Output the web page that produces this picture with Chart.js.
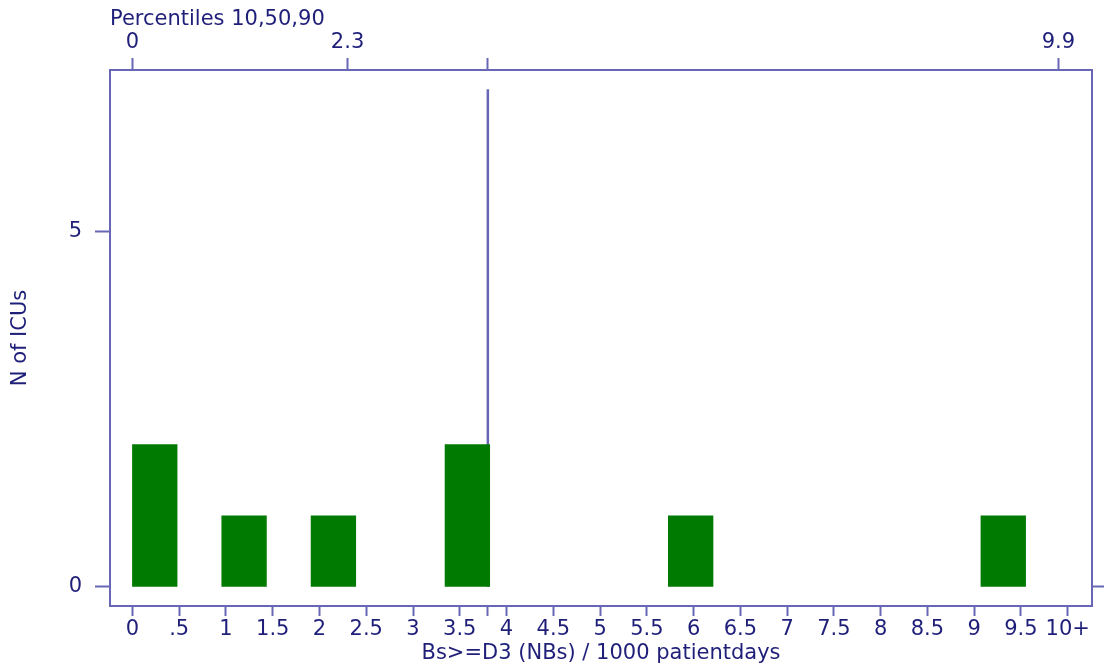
<!DOCTYPE html>
<html>
<head>
<meta charset="utf-8">
<script src="https://cdn.jsdelivr.net/npm/chart.js@4.4.0/dist/chart.umd.min.js"></script>
<style>
html, body { margin: 0; padding: 0; background: #fff; }
</style>
</head>
<body>
<canvas id="chart" width="1104" height="671"></canvas>
<script>
// histogram data (bin i covers i*binWidth .. (i+1)*binWidth)
var binWidth = 0.4775;
var binCounts = [2, 0, 1, 0, 1, 0, 0, 2, 0, 0, 0, 0, 1, 0, 0, 0, 0, 0, 0, 1];

// bottom axis
var xTickValues = [0, 0.5, 1, 1.5, 2, 2.5, 3, 3.5, 4, 4.5, 5, 5.5, 6, 6.5, 7, 7.5, 8, 8.5, 9, 9.5, 10];
var xTickLabels = ['0', '.5', '1', '1.5', '2', '2.5', '3', '3.5', '4', '4.5', '5', '5.5', '6', '6.5', '7', '7.5', '8', '8.5', '9', '9.5', '10+'];

// reference line
var refValue = 3.8;
var refTop = 7;

// top axis (percentiles)
var pctValues = [0, 2.3, 3.8, 9.9];
var pctLabels = ['0', '2.3', '', '9.9'];

// left axis
var yTickValues = [0, 5];
var yTickLabels = ['0', '5'];

var axisColor = '#6767b6';
var textColor = '#1f1f7a';
var fnt = { family: "'DejaVu Sans', Arial, sans-serif", size: 21 };

// empty bins -> null so no hairline is drawn
var barData = binCounts.map(function (c, i) {
    return { x: (i + 0.5) * binWidth, y: c === 0 ? null : c };
});

new Chart(document.getElementById('chart'), {
    type: 'bar',
    data: {
        datasets: [{
            type: 'bar',
            data: barData,
            backgroundColor: '#007a00',
            borderWidth: 0,
            barPercentage: 1,
            categoryPercentage: 1,
            order: 0
        }, {
            type: 'line',
            data: [{ x: refValue, y: 0 }, { x: refValue, y: refTop }],
            borderColor: axisColor,
            borderWidth: 2.5,
            pointRadius: 0,
            order: 1
        }]
    },
    options: {
        responsive: false,
        animation: false,
        layout: { padding: 0 },
        plugins: { legend: { display: false }, tooltip: { enabled: false } },
        scales: {
            x: {
                type: 'linear', position: 'bottom', min: -0.24, max: 10.26, offset: false,
                grid: { drawOnChartArea: false, drawTicks: true, tickLength: 10, tickWidth: 2, color: axisColor, offset: false },
                border: { display: true, color: axisColor, width: 2 },
                afterBuildTicks: function (s) {
                    s.ticks = xTickValues.concat([refValue]).map(function (v) { return { value: v }; });
                },
                ticks: {
                    autoSkip: false, maxRotation: 0, padding: 1, color: textColor, font: fnt,
                    callback: function (v) {
                        var i = xTickValues.indexOf(v);
                        return i < 0 ? '' : xTickLabels[i];
                    }
                },
                title: { display: true, text: 'Bs>=D3 (NBs) / 1000 patientdays', color: textColor, font: fnt, padding: { top: 0, bottom: 5 } },
                afterFit: function (s) { s.height = 65; }
            },
            x2: {
                type: 'linear', position: 'top', min: -0.24, max: 10.26, offset: false,
                grid: { drawOnChartArea: false, drawTicks: true, tickLength: 12, tickWidth: 2, color: axisColor, offset: false },
                border: { display: true, color: axisColor, width: 2 },
                afterBuildTicks: function (s) {
                    s.ticks = pctValues.map(function (v) { return { value: v }; });
                },
                ticks: {
                    autoSkip: false, maxRotation: 0, padding: 3, color: textColor, font: fnt,
                    callback: function (v) {
                        var i = pctValues.indexOf(v);
                        return i < 0 ? '' : pctLabels[i];
                    }
                },
                title: { display: true, text: 'Percentiles 10,50,90', align: 'start', color: textColor, font: fnt, padding: { top: 7, bottom: 0 } },
                afterFit: function (s) { s.height = 70; }
            },
            y: {
                type: 'linear', position: 'left', min: -0.27, max: 7.27,
                grid: { drawOnChartArea: false, drawTicks: true, tickLength: 15, tickWidth: 2, color: axisColor },
                border: { display: true, color: axisColor, width: 2 },
                afterBuildTicks: function (s) {
                    s.ticks = yTickValues.map(function (v) { return { value: v }; });
                },
                ticks: {
                    padding: 13, color: textColor, font: fnt,
                    callback: function (v) {
                        var i = yTickValues.indexOf(v);
                        return i < 0 ? '' : yTickLabels[i];
                    }
                },
                title: { display: true, text: 'N of ICUs', color: textColor, font: fnt, padding: { top: 8, bottom: 0 } },
                afterFit: function (s) { s.width = 110; }
            },
            y2: {
                type: 'linear', position: 'right', min: -0.27, max: 7.27,
                grid: { drawOnChartArea: false, drawTicks: true, tickLength: 14, tickWidth: 2, color: axisColor },
                border: { display: true, color: axisColor, width: 2 },
                afterBuildTicks: function (s) { s.ticks = [{ value: 0 }]; },
                ticks: { padding: 0, font: fnt, callback: function () { return ''; } },
                afterFit: function (s) { s.width = 12; }
            }
        }
    }
});
</script>
</body>
</html>
